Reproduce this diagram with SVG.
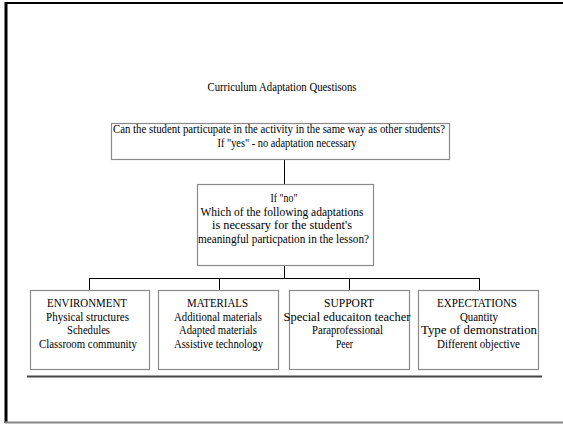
<svg xmlns="http://www.w3.org/2000/svg" width="563" height="424" viewBox="0 0 563 424">
<style>
text{font-family:"Liberation Serif","Times New Roman","DejaVu Serif",serif;font-size:11.5px;fill:#000;text-anchor:middle}
.box{fill:#fff;stroke:#8a8a8a;stroke-width:1.2}
.c{stroke:#000;stroke-width:1;fill:none}
</style>
<rect x="0" y="0" width="563" height="424" fill="#fff"/>
<g id="frame">
<line x1="5" y1="3" x2="563" y2="3" stroke="#000" stroke-width="2"/>
<line x1="6" y1="2" x2="6" y2="423" stroke="#000" stroke-width="3"/>
<line x1="5" y1="422.5" x2="563" y2="422.5" stroke="#888" stroke-width="2"/>
</g>
<g id="title"><text x="282" y="91" textLength="149" lengthAdjust="spacingAndGlyphs">Curriculum Adaptation Questisons</text></g>
<g id="connectors">
<line class="c" x1="284.5" y1="160" x2="284.5" y2="184"/>
<line class="c" x1="284.5" y1="265" x2="284.5" y2="278.5"/>
<line class="c" x1="89.5" y1="278.5" x2="479.5" y2="278.5"/>
<line class="c" x1="89.5" y1="278" x2="89.5" y2="290"/>
<line class="c" x1="219.5" y1="278" x2="219.5" y2="290"/>
<line class="c" x1="349.5" y1="278" x2="349.5" y2="290"/>
<line class="c" x1="479.5" y1="278" x2="479.5" y2="290"/>
</g>
<g id="question">
<rect class="box" x="111.5" y="123.5" width="338" height="36"/>
<text x="279" y="132.5" textLength="332" lengthAdjust="spacingAndGlyphs">Can the student particupate in the activity in the same way as other students?</text>
<text x="287" y="147" textLength="139" lengthAdjust="spacingAndGlyphs">If "yes" - no adaptation necessary</text>
</g>
<g id="ifno">
<rect class="box" x="197.5" y="184.5" width="176" height="81"/>
<text x="284" y="202" textLength="27" lengthAdjust="spacingAndGlyphs">If "no"</text>
<text x="282" y="216" textLength="163" lengthAdjust="spacingAndGlyphs">Which of the following adaptations</text>
<text x="282" y="229" textLength="140" lengthAdjust="spacingAndGlyphs">is necessary for the student's</text>
<text x="283.5" y="243" textLength="171" lengthAdjust="spacingAndGlyphs">meaningful particpation in the lesson?</text>
</g>
<g id="environment">
<rect class="box" x="30.5" y="290.5" width="119" height="79"/>
<text x="87" y="307" textLength="80" lengthAdjust="spacingAndGlyphs">ENVIRONMENT</text>
<text x="87.5" y="321" textLength="83" lengthAdjust="spacingAndGlyphs">Physical structures</text>
<text x="88.5" y="334" textLength="43" lengthAdjust="spacingAndGlyphs">Schedules</text>
<text x="88" y="348" textLength="98" lengthAdjust="spacingAndGlyphs">Classroom community</text>
</g>
<g id="materials">
<rect class="box" x="158.5" y="290.5" width="120" height="79"/>
<text x="217.5" y="307" textLength="61" lengthAdjust="spacingAndGlyphs">MATERIALS</text>
<text x="218" y="321" textLength="88" lengthAdjust="spacingAndGlyphs">Additional materials</text>
<text x="218" y="334" textLength="78" lengthAdjust="spacingAndGlyphs">Adapted materials</text>
<text x="218.5" y="348" textLength="89" lengthAdjust="spacingAndGlyphs">Assistive technology</text>
</g>
<g id="support">
<rect class="box" x="289.5" y="290.5" width="120" height="79"/>
<text x="349" y="307" textLength="50" lengthAdjust="spacingAndGlyphs">SUPPORT</text>
<text x="347" y="321" textLength="127" lengthAdjust="spacingAndGlyphs">Special educaiton teacher</text>
<text x="347.5" y="334" textLength="71" lengthAdjust="spacingAndGlyphs">Paraprofessional</text>
<text x="344.5" y="348" textLength="17" lengthAdjust="spacingAndGlyphs">Peer</text>
</g>
<g id="expectations">
<rect class="box" x="418.5" y="290.5" width="120" height="79"/>
<text x="477" y="307" textLength="80" lengthAdjust="spacingAndGlyphs">EXPECTATIONS</text>
<text x="479" y="321" textLength="38" lengthAdjust="spacingAndGlyphs">Quantity</text>
<text x="479" y="334" textLength="116" lengthAdjust="spacingAndGlyphs">Type of demonstration</text>
<text x="478.5" y="348" textLength="83" lengthAdjust="spacingAndGlyphs">Different objective</text>
</g>
<g id="rule">
<line x1="27" y1="376.5" x2="542" y2="376.5" stroke="#444" stroke-width="2"/>
</g>
</svg>
